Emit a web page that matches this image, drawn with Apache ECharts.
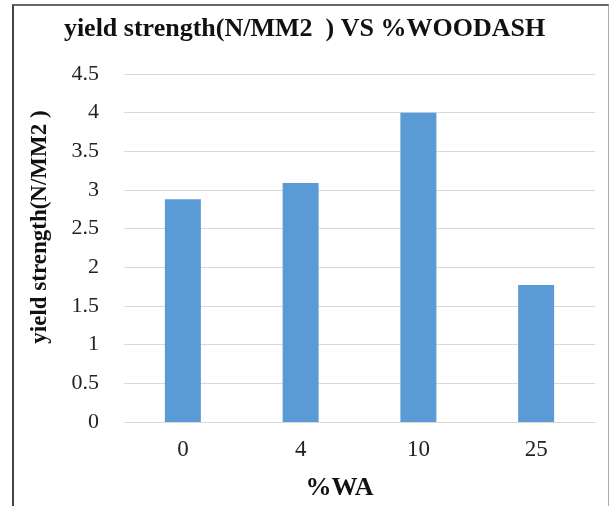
<!DOCTYPE html>
<html><head><meta charset="utf-8">
<script src="https://cdn.jsdelivr.net/npm/echarts@6/dist/echarts.min.js"></script>
<style>
html,body{margin:0;padding:0;background:#fff;}
#frame{position:absolute;left:12px;top:4px;width:594px;height:510px;border-left:2px solid #444;border-top:2px solid #666;border-right:1px solid #aaa;}
#c{position:absolute;left:0;top:0;width:609px;height:506px;}
</style>
</head><body>
<div id="frame"></div>
<div id="c"></div>
<script>
const categories = ['0', '4', '10', '25'];
const yieldStrength = [2.88, 3.09, 4.0, 1.77];
const titleText = 'yield strength(N/MM2  ) VS %WOODASH';
const xName = '%WA';
const yName = 'yield strength(N/MM2 )';

const chart = echarts.init(document.getElementById('c'));
chart.setOption({
  animation: false,
  title: {
    text: titleText, left: 'center', top: 11,
    textStyle: {fontFamily: 'Liberation Serif', fontWeight: 'bold', fontSize: 26, color: '#111'}
  },
  grid: {left: 124, right: 14, top: 74, bottom: 84},
  xAxis: {
    type: 'category', data: categories,
    name: xName, nameLocation: 'middle', nameGap: 53,
    nameTextStyle: {fontFamily: 'Liberation Serif', fontWeight: 'bold', fontSize: 26, color: '#111', padding: [0, 40, 0, 0]},
    axisLine: {lineStyle: {color: '#d9d9d9', width: 1}},
    axisTick: {show: false},
    axisLabel: {fontFamily: 'Liberation Serif', fontSize: 23, color: '#222', margin: 16}
  },
  yAxis: {
    type: 'value', min: 0, max: 4.5, interval: 0.5,
    name: yName, nameLocation: 'middle', nameGap: 72,
    nameTextStyle: {fontFamily: 'Liberation Serif', fontWeight: 'bold', fontSize: 23, color: '#111', padding: [0, 0, 0, 42]},
    axisLine: {show: false}, axisTick: {show: false},
    splitLine: {lineStyle: {color: '#d9d9d9', width: 1}},
    axisLabel: {fontFamily: 'Liberation Serif', fontSize: 22, color: '#222', margin: 25}
  },
  series: [{
    type: 'bar', data: yieldStrength, barWidth: 36,
    itemStyle: {color: '#5b9bd5'}
  }]
});
</script>
</body></html>
